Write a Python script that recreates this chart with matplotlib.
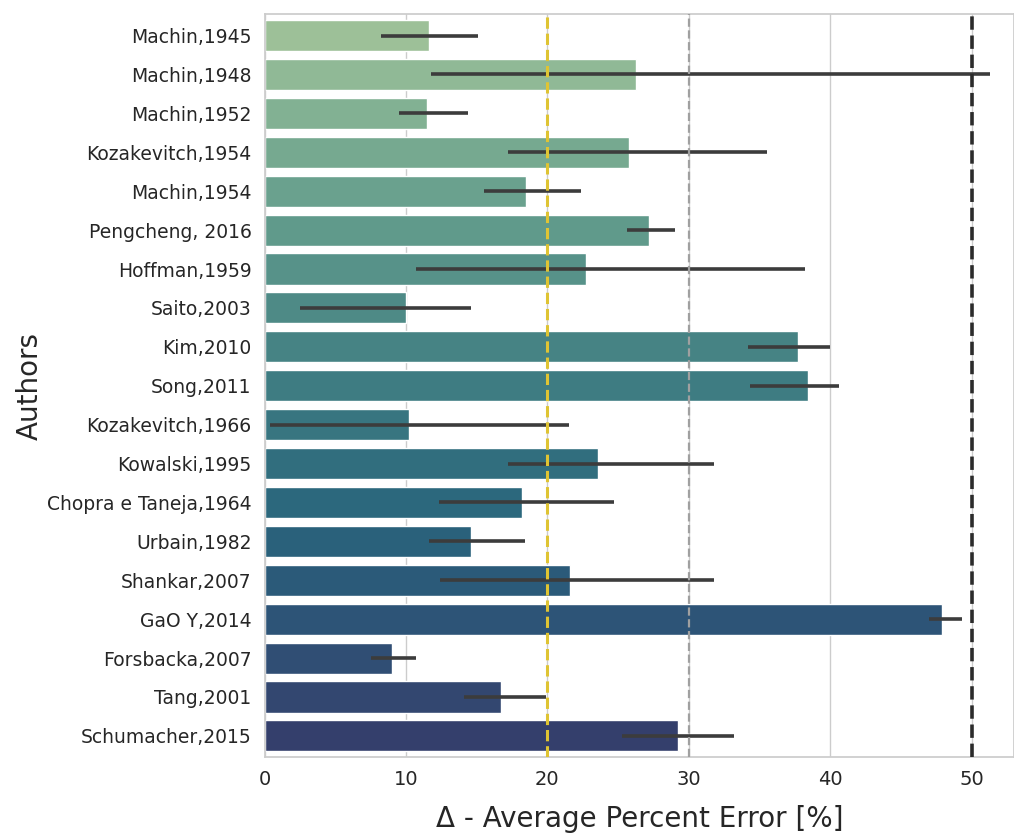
import numpy as np
import matplotlib
matplotlib.use("Agg")
import matplotlib.pyplot as plt
import seaborn as sns

# authors (top to bottom) with mean error and error bar ends
authors = ["Machin,1945", "Machin,1948", "Machin,1952", "Kozakevitch,1954", "Machin,1954",
           "Pengcheng, 2016", "Hoffman,1959", "Saito,2003", "Kim,2010", "Song,2011",
           "Kozakevitch,1966", "Kowalski,1995", "Chopra e Taneja,1964", "Urbain,1982",
           "Shankar,2007", "GaO Y,2014", "Forsbacka,2007", "Tang,2001", "Schumacher,2015"]
mean_err = [11.6, 26.3, 11.5, 25.8, 18.5, 27.2, 22.7, 10.0, 37.7, 38.4,
            10.2, 23.6, 18.2, 14.6, 21.6, 47.9, 9.0, 16.7, 29.2]
ci_low = [8.2, 11.8, 9.5, 17.2, 15.5, 25.6, 10.7, 2.5, 34.2, 34.3,
          0.4, 17.2, 12.3, 11.6, 12.4, 47.0, 7.5, 14.1, 25.3]
ci_high = [15.1, 51.3, 14.4, 35.5, 22.4, 29.0, 38.2, 14.6, 40.0, 40.6,
           21.5, 31.8, 24.7, 18.4, 31.8, 49.3, 10.7, 19.9, 33.2]
ref_lines = [20, 30, 50]

sns.set_theme(style="whitegrid")
plt.rcParams['font.family'] = ['DejaVu Sans']

fig = plt.figure(figsize=(10.14, 8.34), dpi=100)
ax = fig.add_axes([0.261, 0.092, 0.739, 0.891])

# seaborn barplot look: crest palette at 0.75 saturation
colors = [sns.desaturate(c, 0.75) for c in sns.color_palette("crest", len(authors))]
y = np.arange(len(authors))
mean_err = np.array(mean_err)
xerr = np.array([mean_err - np.array(ci_low), np.array(ci_high) - mean_err])

ax.barh(y, mean_err, height=0.8, color=colors, zorder=2)
ax.errorbar(mean_err, y, xerr=xerr, fmt="none", ecolor="#3c3c3c", elinewidth=2.6,
            capsize=0, zorder=3)

ax.axvline(ref_lines[0], color="#dfc433", linestyle="--", linewidth=2.2, zorder=4)
ax.axvline(ref_lines[1], color="#a0a0a0", linestyle="--", linewidth=1.6, zorder=4)
ax.axvline(ref_lines[2], color="#2b2b2b", linestyle="--", linewidth=2.6, zorder=4)

ax.set_yticks(y)
ax.set_yticklabels(authors, fontsize=13.5)
ax.set_ylim(len(authors) - 0.5 + 0.05, -0.5 - 0.05)
ax.set_xlim(0, 53)
ax.set_xticks([0, 10, 20, 30, 40, 50])
ax.tick_params(axis="x", labelsize=14)
ax.grid(axis="y", visible=False)
ax.set_axisbelow(True)

ax.set_xlabel("Δ - Average Percent Error [%]", fontsize=20, labelpad=11)
ax.set_ylabel("Authors", fontsize=20, labelpad=2)

fig.savefig("out.png", dpi=100)
